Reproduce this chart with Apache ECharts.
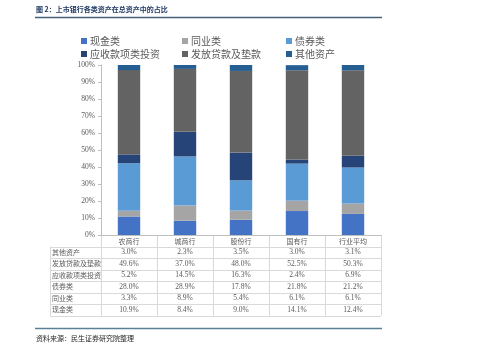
<!DOCTYPE html>
<html>
<head>
<meta charset="utf-8">
<script src="https://cdn.jsdelivr.net/npm/echarts@6/dist/echarts.min.js"></script>
<style>
html, body {margin: 0; padding: 0; background: #fff;}
#main {width: 499px; height: 353px;}
</style>
</head>
<body>
<div id="main"></div>
<script>
// 数据
let banks = ['农商行', '城商行', '股份行', '国有行', '行业平均'];
let cash = [10.9, 8.4, 9.0, 14.1, 12.4];
let interbank = [3.3, 8.9, 5.4, 6.1, 6.1];
let bonds = [28.0, 28.9, 17.8, 21.8, 21.2];
let receivables = [5.2, 14.5, 16.3, 2.4, 6.9];
let loans = [49.6, 37.0, 48.0, 52.5, 50.3];
let others = [3.0, 2.3, 3.5, 3.0, 3.1];

let seriesNames = ['现金类', '同业类', '债券类', '应收款项类投资', '发放贷款及垫款', '其他资产'];
let seriesData = [cash, interbank, bonds, receivables, loans, others];
let colors = ['#4472c4', '#a5a5a5', '#5b9bd5', '#264478', '#636363', '#255e91'];
// 表格行顺序（自上而下）
let tableOrder = [5, 4, 3, 2, 1, 0];

let cnFont = '"Noto Sans CJK SC", sans-serif';
let numFont = '"Liberation Serif", serif';

let myChart = echarts.init(document.getElementById('main'));

// 图例位置：三列两行
let legendPos = [[76, 31], [177, 31], [281, 31], [76, 44], [177, 44], [281, 44]];
let legends = seriesNames.map(function (n, i) {
    return {
        data: [n],
        left: legendPos[i][0],
        top: legendPos[i][1],
        itemWidth: 6,
        itemHeight: 6,
        itemGap: 0,
        icon: 'rect',
        selectedMode: false,
        textStyle: {fontFamily: cnFont, fontSize: 10, color: '#595959', padding: [0, 0, 0, -2]}
    };
});

let series = seriesNames.map(function (n, i) {
    return {
        name: n,
        type: 'bar',
        stack: 'total',
        barWidth: '40%',
        itemStyle: {color: colors[i]},
        data: seriesData[i]
    };
});

let option = {
    animation: false,
    legend: legends,
    grid: {left: 101, right: 118, top: 65, bottom: 118},
    xAxis: {
        type: 'category',
        data: banks,
        axisLine: {lineStyle: {color: '#bfbfbf'}},
        axisTick: {show: false},
        axisLabel: {fontFamily: cnFont, fontSize: 7, color: '#595959', margin: 3}
    },
    yAxis: {
        type: 'value',
        min: 0,
        max: 100,
        interval: 10,
        axisLine: {show: true, lineStyle: {color: '#bfbfbf'}},
        axisTick: {show: true, length: 3, lineStyle: {color: '#bfbfbf'}},
        splitLine: {show: false},
        axisLabel: {formatter: '{value}%', fontFamily: numFont, fontSize: 7.5, color: '#595959', margin: 6}
    },
    series: series
};

myChart.setOption(option);

// 表格
let xs = banks.map(function (b) { return myChart.convertToPixel({xAxisIndex: 0}, b); });
let band = xs[1] - xs[0];
let tLeft = 50;
let tRight = xs[xs.length - 1] + band / 2;
let rowTop = 246.5;
let rowH = 11.5;
let lineColor = '#d9d9d9';
let g = [];

// 标题
g.push({type: 'text', left: 36, top: 6, style: {text: '图 2：上市银行各类资产在总资产中的占比', fontFamily: cnFont, fontSize: 7, fontWeight: 'bold', fill: '#1f3864'}});
g.push({type: 'line', shape: {x1: 35, y1: 17.5, x2: 382, y2: 17.5}, style: {stroke: '#44607a', lineWidth: 1.5}});
// 底部
g.push({type: 'line', shape: {x1: 35, y1: 328.5, x2: 382, y2: 328.5}, style: {stroke: '#5b7f95', lineWidth: 1.5}});
g.push({type: 'text', left: 36, top: 335, style: {text: '资料来源：民生证券研究院整理', fontFamily: cnFont, fontSize: 7, fill: '#1f1f1f'}});

// 表头竖线
for (let i = 0; i <= banks.length; i++) {
    let x = Math.round(xs[0] - band / 2 + i * band) + 0.5;
    g.push({type: 'line', shape: {x1: x, y1: 235, x2: x, y2: rowTop + rowH * 6}, style: {stroke: lineColor, lineWidth: 1}});
}
g.push({type: 'line', shape: {x1: tLeft + 0.5, y1: rowTop, x2: tLeft + 0.5, y2: rowTop + rowH * 6}, style: {stroke: lineColor, lineWidth: 1}});
for (let r = 0; r <= 6; r++) {
    let y = Math.round(rowTop + r * rowH) + 0.5;
    g.push({type: 'line', shape: {x1: tLeft, y1: y, x2: tRight, y2: y}, style: {stroke: lineColor, lineWidth: 1}});
}
tableOrder.forEach(function (si, r) {
    let cy = rowTop + r * rowH + rowH / 2;
    g.push({type: 'text', x: 52, y: cy, style: {text: seriesNames[si], fontFamily: cnFont, fontSize: 7, fill: '#595959', verticalAlign: 'middle'}});
    seriesData[si].forEach(function (v, i) {
        g.push({type: 'text', x: xs[i], y: cy, style: {text: v.toFixed(1) + '%', fontFamily: numFont, fontSize: 7.5, fill: '#595959', align: 'center', verticalAlign: 'middle'}});
    });
});

myChart.setOption({graphic: g});
</script>
</body>
</html>
